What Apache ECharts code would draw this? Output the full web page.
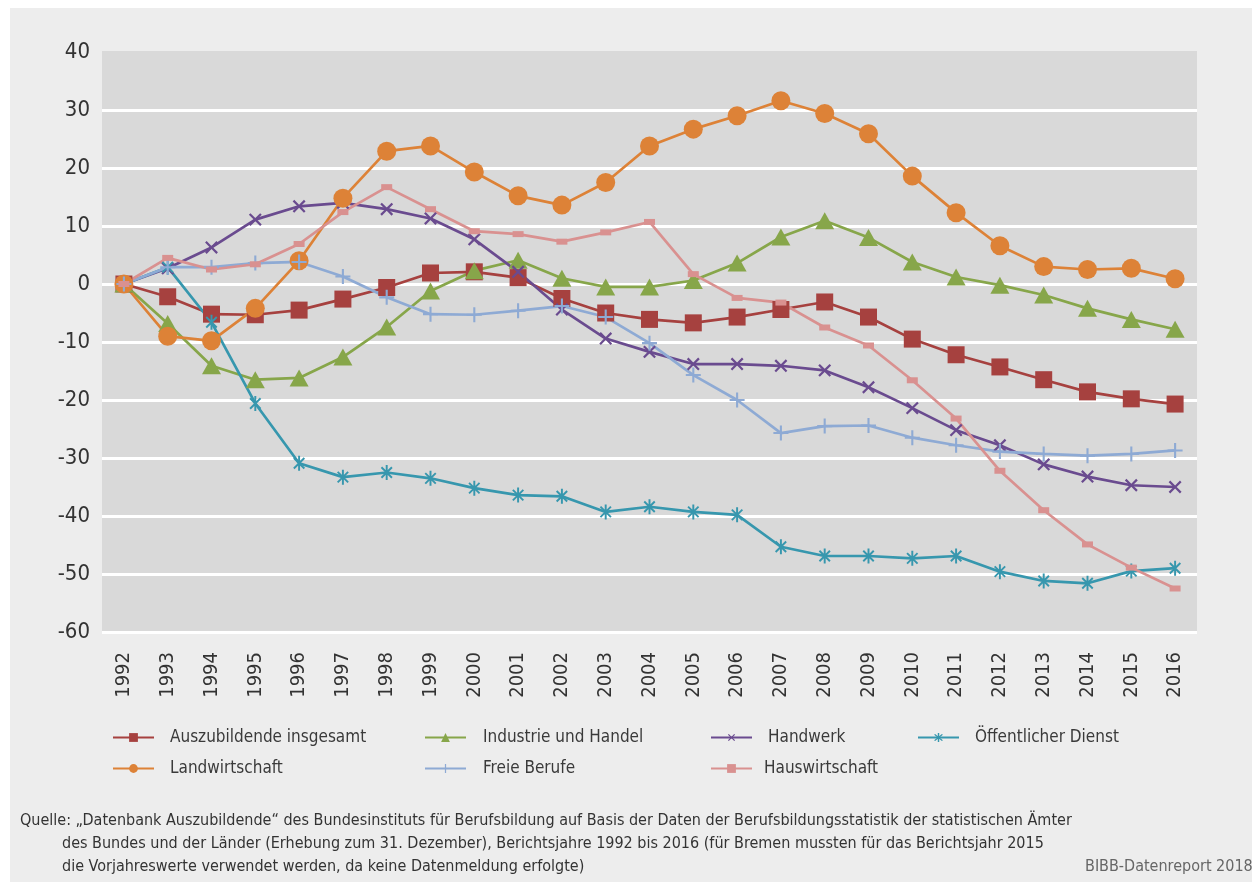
<!DOCTYPE html>
<html>
<head>
<meta charset="utf-8">
<script src="https://cdn.jsdelivr.net/npm/echarts@6/dist/echarts.min.js"></script>
<style>
  html, body { margin: 0; padding: 0; background: #fff; }
  #chart { width: 1252px; height: 882px; }
</style>
</head>
<body>
<div id="chart"></div>
<script>
var FONT = '"Liberation Sans Narrow", "DejaVu Sans Condensed", "Roboto Condensed", "Noto Sans", sans-serif';

// Veränderung gegenüber 1992 in %
var years = ['1992', '1993', '1994', '1995', '1996', '1997', '1998', '1999', '2000', '2001', '2002', '2003',
    '2004', '2005', '2006', '2007', '2008', '2009', '2010', '2011', '2012', '2013', '2014', '2015', '2016'];
var insgesamt = [0, -2.2, -5.2, -5.3, -4.5, -2.6, -0.6, 1.9, 2.1, 1.1, -2.5, -5.0, -6.1, -6.7, -5.7, -4.4, -3.1,
    -5.7, -9.5, -12.2, -14.3, -16.5, -18.6, -19.8, -20.7];
var industrie = [0, -6.8, -14.1, -16.5, -16.2, -12.6, -7.4, -1.2, 2.3, 4.1, 1.0, -0.5, -0.5, 0.6, 3.6, 8.1, 10.9,
    8.0, 3.8, 1.2, -0.2, -1.9, -4.2, -6.1, -7.8];
var handwerk = [0, 2.7, 6.3, 11.1, 13.4, 14.0, 12.9, 11.3, 7.7, 2.1, -4.4, -9.4, -11.7, -13.8, -13.8, -14.1, -14.9,
    -17.8, -21.4, -25.2, -27.8, -31.1, -33.2, -34.7, -35.0];
var oeffentlich = [0, 2.9, -6.6, -20.6, -30.9, -33.3, -32.5, -33.5, -35.2, -36.4, -36.6, -39.3, -38.4, -39.3, -39.8,
    -45.3, -46.9, -46.9, -47.3, -46.9, -49.6, -51.2, -51.6, -49.5, -49.0];
var landwirtschaft = [0, -9.0, -9.8, -4.2, 4.0, 14.8, 22.9, 23.8, 19.3, 15.2, 13.6, 17.5, 23.8, 26.7, 29.0, 31.6,
    29.4, 25.9, 18.6, 12.3, 6.6, 3.0, 2.5, 2.7, 0.9];
var freie = [0, 2.9, 2.9, 3.6, 3.8, 1.3, -2.3, -5.2, -5.3, -4.6, -3.8, -5.7, -10.2, -15.7, -20.0, -25.7, -24.5,
    -24.4, -26.5, -27.8, -28.9, -29.3, -29.6, -29.3, -28.7];
var hauswirtschaft = [0, 4.5, 2.5, 3.4, 6.9, 12.4, 16.7, 12.9, 9.1, 8.6, 7.3, 8.9, 10.7, 1.7, -2.4, -3.2, -7.5,
    -10.6, -16.6, -23.2, -32.2, -39.0, -44.9, -48.9, -52.5];

var quelle = [
    'Quelle: \u201EDatenbank Auszubildende\u201C des Bundesinstituts f\u00FCr Berufsbildung auf Basis der Daten der Berufsbildungsstatistik der statistischen \u00C4mter',
    'des Bundes und der L\u00E4nder (Erhebung zum 31. Dezember), Berichtsjahre 1992 bis 2016 (f\u00FCr Bremen mussten f\u00FCr das Berichtsjahr 2015',
    'die Vorjahreswerte verwendet werden, da keine Datenmeldung erfolgte)'
];

// Marker-Formen
var plusPath = 'path://M-1.4,-10H1.4V-1.4H10V1.4H1.4V10H-1.4V1.4H-10V-1.4H-1.4Z';
var starPath = 'path://M-1.3,-10H1.3V10H-1.3Z M-7.9,-6.1L-6.1,-7.9L7.9,6.1L6.1,7.9Z M6.1,-7.9L7.9,-6.1L-6.1,7.9L-7.9,6.1Z';

function line(name, data, color, symbol, size, extra) {
    var s = {
        name: name,
        type: 'line',
        data: data,
        symbol: symbol,
        symbolSize: size,
        symbolKeepAspect: true,
        lineStyle: { color: color, width: 2.7 },
        itemStyle: { color: color, borderWidth: 0 },
        emphasis: { disabled: true },
        animation: false
    };
    return Object.assign(s, extra || {});
}

var series = [
    line('Auszubildende insgesamt', insgesamt, '#a6413f', 'rect', 17),
    line('Industrie und Handel', industrie, '#87a64a', 'triangle', [19, 17]),
    line('Handwerk', handwerk, '#6a4b8f', plusPath, 16, { symbolRotate: 45 }),
    line('\u00D6ffentlicher Dienst', oeffentlich, '#3797ae', starPath, 15),
    line('Landwirtschaft', landwirtschaft, '#dd8237', 'circle', 19),
    line('Freie Berufe', freie, '#8eaad4', plusPath, 15),
    line('Hauswirtschaft', hauswirtschaft, '#d99190', 'rect', [11, 6])
];

function legend(name, left, top, gap) {
    return {
        data: [name],
        left: left,
        top: top,
        padding: 0,
        itemWidth: 41,
        itemHeight: 11,
        selectedMode: false,
        textStyle: { fontFamily: FONT, fontSize: 17, color: '#3a3a3a', padding: [0, 0, 0, gap] }
    };
}

var myChart = echarts.init(document.getElementById('chart'), null, { renderer: 'canvas' });

var gridColors = ['#ffffff', '#ffffff', '#ffffff', '#ffffff', '#ffffff', '#ffffff', '#ffffff', '#ffffff', '#ffffff', '#ffffff', '#d9d9d9'];

var graphics = [
    { type: 'rect', z: -10, shape: { x: 10, y: 8, width: 1242, height: 874 }, style: { fill: '#ededed' }, silent: true }
];
quelle.forEach(function (t, i) {
    graphics.push({
        type: 'text', left: i === 0 ? 20 : 62, top: 813 + i * 23,
        style: { text: t, fontFamily: FONT, fontSize: 16, fill: '#333' }
    });
});
graphics.push({
    type: 'text', left: 1085, top: 859,
    style: { text: 'BIBB-Datenreport 2018', fontFamily: FONT, fontSize: 16, fill: '#666' }
});

var option = {
    backgroundColor: '#ffffff',
    animation: false,
    grid: {
        left: 102, top: 52, width: 1095, height: 580,
        show: true, backgroundColor: '#d9d9d9', borderWidth: 0
    },
    legend: [
        legend('Auszubildende insgesamt', 112, 729, 11),
        legend('Landwirtschaft', 112, 760, 11),
        legend('Industrie und Handel', 424, 729, 12),
        legend('Freie Berufe', 424, 760, 12),
        legend('Handwerk', 710, 729, 11),
        legend('Hauswirtschaft', 710, 760, 7),
        legend('\u00D6ffentlicher Dienst', 917, 729, 11)
    ],
    xAxis: {
        type: 'category',
        data: years,
        boundaryGap: true,
        axisLine: { show: false },
        axisTick: { show: false },
        axisLabel: { rotate: 90, margin: 20, fontFamily: FONT, fontSize: 20, color: '#333' }
    },
    yAxis: {
        type: 'value',
        min: -60,
        max: 40,
        interval: 10,
        axisLine: { show: false },
        axisTick: { show: false },
        axisLabel: { margin: 12, fontFamily: FONT, fontSize: 22, color: '#333' },
        splitLine: { show: true, lineStyle: { color: gridColors, width: 3 } }
    },
    graphic: graphics,
    series: series
};

myChart.setOption(option);
</script>
</body>
</html>
